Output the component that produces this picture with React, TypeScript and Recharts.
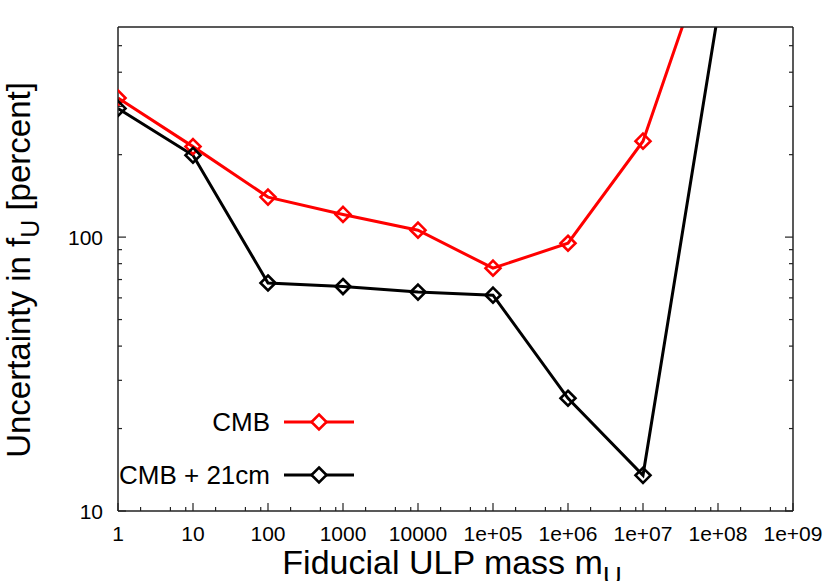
import React from 'react';
import { LineChart, Line, XAxis, YAxis, Legend } from 'recharts';

// fiducial ULP masses (x) and uncertainty in f_U, percent (y)
const masses = [1, 10, 100, 1000, 1e4, 1e5, 1e6, 1e7, 1e8];
const cmbOnly = [322, 214, 140, 121, 106, 77, 95, 224, 1400];
const cmbPlus21 = [295, 199, 68, 66, 63, 61.4, 25.8, 13.5, 655];

const xMajorTicks = [1, 10, 100, 1000, 1e4, 1e5, 1e6, 1e7, 1e8, 1e9];
const xTickLabels = ['1', '10', '100', '1000', '10000', '1e+05', '1e+06', '1e+07', '1e+08', '1e+09'];
const xMinorSteps = [2, 5, 8];
const yMajorTicks = [10, 100];
const yTickLabels = ['10', '100'];
const yMinorSteps = [2, 3, 4, 5, 6, 7, 8, 9];
const xDomain: [number, number] = [1, 1e9];
const yDomain: [number, number] = [10, 585];

const FONT = '"Liberation Sans", Arial, Helvetica, sans-serif';
const RED = '#ff0000';
const BLACK = '#000000';
const BORDER = '#222';

const xTicks = [
    ...xMajorTicks,
    ...xMajorTicks.slice(0, -1).flatMap(d => xMinorSteps.map(s => s * d))
].sort((a, b) => a - b);
const yTicks = [
    ...yMajorTicks,
    ...yMajorTicks.flatMap(d => yMinorSteps.map(s => s * d))
].filter(v => v <= yDomain[1]).sort((a, b) => a - b);

const data = masses.map((m, i) => ({ m, cmb: cmbOnly[i], cmb21: cmbPlus21[i] }));

const MAJOR = 8;
const MINOR = 4;

const BottomTick = ({ x, y, payload }: any) => {
    const idx = xMajorTicks.indexOf(payload.value);
    const major = idx >= 0;
    return (
        <g>
            <line x1={x} x2={x} y1={y} y2={y - (major ? MAJOR : MINOR)} stroke={BORDER} strokeWidth={1.2} />
            {major && (
                <text x={x} y={y + 30} textAnchor="middle" fontSize={21} fontFamily={FONT} fill="#000">
                    {xTickLabels[idx]}
                </text>
            )}
        </g>
    );
};

const TopTick = ({ x, y, payload }: any) => {
    const major = xMajorTicks.includes(payload.value);
    return <line x1={x} x2={x} y1={y} y2={y + (major ? MAJOR : MINOR)} stroke={BORDER} strokeWidth={1.2} />;
};

const LeftTick = ({ x, y, payload }: any) => {
    const idx = yMajorTicks.indexOf(payload.value);
    const major = idx >= 0;
    return (
        <g>
            <line x1={x} x2={x + (major ? MAJOR : MINOR)} y1={y} y2={y} stroke={BORDER} strokeWidth={1.2} />
            {major && (
                <text x={x - 15} y={y + 8} textAnchor="end" fontSize={21} fontFamily={FONT} fill="#000">
                    {yTickLabels[idx]}
                </text>
            )}
        </g>
    );
};

const RightTick = ({ x, y, payload }: any) => {
    const major = yMajorTicks.includes(payload.value);
    return <line x1={x} x2={x - (major ? MAJOR : MINOR)} y1={y} y2={y} stroke={BORDER} strokeWidth={1.2} />;
};

const diamond = (color: string) => (props: any) => {
    const { cx, cy, index } = props;
    if (cx == null || cy == null) return <g key={`d-${index}`} />;
    const r = 7.5;
    return (
        <polygon
            key={`d-${index}`}
            points={`${cx},${cy - r} ${cx + r},${cy} ${cx},${cy + r} ${cx - r},${cy}`}
            fill="#fff"
            fillOpacity={0}
            stroke={color}
            strokeWidth={2.6}
        />
    );
};

const LegendBox = ({ payload }: any) => {
    const rows = payload || [];
    return (
        <svg width={300} height={120} style={{ display: 'block' }}>
            {rows.map((item: any, i: number) => {
                const cy = 22 + i * 53;
                const color = item.color;
                const r = 7.5;
                return (
                    <g key={item.value}>
                        <text x={170} y={cy + 9} textAnchor="end" fontSize={26} fontFamily={FONT} fill="#000">
                            {item.value}
                        </text>
                        <line x1={184} x2={254} y1={cy} y2={cy} stroke={color} strokeWidth={3} />
                        <polygon
                            points={`219,${cy - r} ${219 + r},${cy} 219,${cy + r} ${219 - r},${cy}`}
                            fill="#fff"
                            stroke={color}
                            strokeWidth={2.6}
                        />
                    </g>
                );
            })}
        </svg>
    );
};

const YTitle = () => (
    <text
        x={30}
        y={270}
        transform="rotate(-90, 30, 270)"
        textAnchor="middle"
        fontSize={33}
        fontFamily={FONT}
        fill="#000"
    >
        Uncertainty in f<tspan dy={9} fontSize={25}>U</tspan><tspan dy={-9}> [percent]</tspan>
    </text>
);

const XTitle = () => (
    <text x={452} y={574} textAnchor="middle" fontSize={34} fontFamily={FONT} fill="#000">
        Fiducial ULP mass m<tspan dy={11} fontSize={26}>U</tspan>
    </text>
);

export default function App() {
    return (
        <div style={{ position: 'absolute', left: 0, top: 0, width: 830, height: 581, background: '#fff' }}>
            <LineChart
                width={830}
                height={581}
                data={data}
                margin={{ top: 26, right: 36, bottom: 0, left: 0 }}
            >
                <XAxis
                    dataKey="m"
                    type="number"
                    scale="log"
                    domain={xDomain}
                    allowDataOverflow
                    ticks={xTicks}
                    interval={0}
                    tickSize={0}
                    tickMargin={0}
                    tickLine={false}
                    tick={(p: any) => <BottomTick {...p} />}
                    axisLine={{ stroke: BORDER, strokeWidth: 1.5 }}
                    height={70}
                    label={() => <XTitle />}
                />
                <XAxis
                    xAxisId="top"
                    orientation="top"
                    type="number"
                    scale="log"
                    domain={xDomain}
                    allowDataOverflow
                    ticks={xTicks}
                    interval={0}
                    tickSize={0}
                    tickMargin={0}
                    tickLine={false}
                    tick={(p: any) => <TopTick {...p} />}
                    axisLine={{ stroke: BORDER, strokeWidth: 1.5 }}
                    height={1}
                />
                <YAxis
                    type="number"
                    scale="log"
                    domain={yDomain}
                    allowDataOverflow
                    ticks={yTicks}
                    interval={0}
                    tickSize={0}
                    tickMargin={0}
                    tickLine={false}
                    tick={(p: any) => <LeftTick {...p} />}
                    axisLine={{ stroke: BORDER, strokeWidth: 1.5 }}
                    width={118}
                    label={() => <YTitle />}
                />
                <YAxis
                    yAxisId="right"
                    orientation="right"
                    type="number"
                    scale="log"
                    domain={yDomain}
                    allowDataOverflow
                    ticks={yTicks}
                    interval={0}
                    tickSize={0}
                    tickMargin={0}
                    tickLine={false}
                    tick={(p: any) => <RightTick {...p} />}
                    axisLine={{ stroke: BORDER, strokeWidth: 1.5 }}
                    width={1}
                />
                <Legend
                    layout="horizontal"
                    verticalAlign="middle"
                    align="center"
                    content={(p: any) => <LegendBox {...p} />}
                    wrapperStyle={{ position: 'absolute', left: 100, top: 400, width: 300, height: 120 }}
                />
                <Line
                    type="linear"
                    dataKey="cmb"
                    name="CMB"
                    stroke={RED}
                    strokeWidth={3}
                    dot={diamond(RED)}
                    activeDot={false}
                    isAnimationActive={false}
                />
                <Line
                    type="linear"
                    dataKey="cmb21"
                    name="CMB + 21cm"
                    stroke={BLACK}
                    strokeWidth={3}
                    dot={diamond(BLACK)}
                    activeDot={false}
                    isAnimationActive={false}
                />
            </LineChart>
        </div>
    );
}
